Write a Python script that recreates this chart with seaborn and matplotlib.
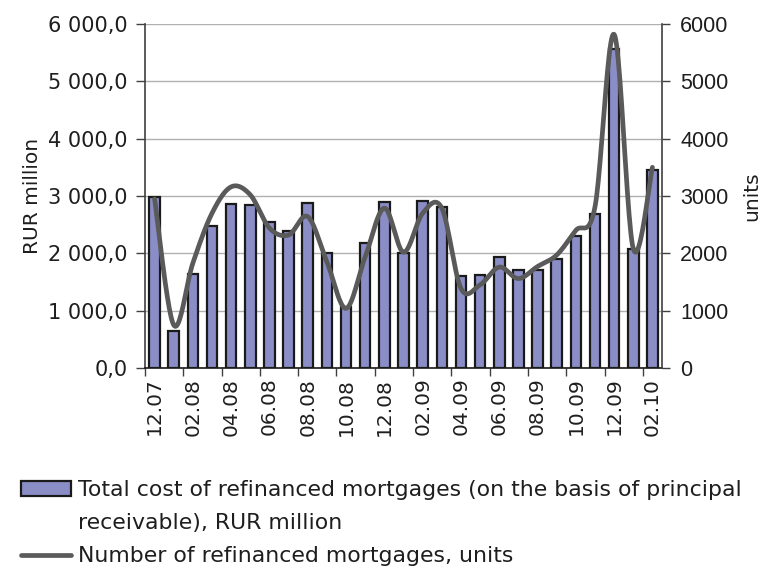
import numpy as np
import pandas as pd
import matplotlib
matplotlib.use('Agg')
import matplotlib.pyplot as plt
from matplotlib.ticker import FixedLocator, FuncFormatter
from matplotlib.patches import Patch
from matplotlib.lines import Line2D
import seaborn as sns

# --- data ---
months = ['12.07', '01.08', '02.08', '03.08', '04.08', '05.08', '06.08', '07.08',
          '08.08', '09.08', '10.08', '11.08', '12.08', '01.09', '02.09', '03.09',
          '04.09', '05.09', '06.09', '07.09', '08.09', '09.09', '10.09', '11.09',
          '12.09', '01.10', '02.10']
cost_rur_mln = [2980, 650, 1640, 2480, 2860, 2840, 2540, 2390, 2870, 2000, 1060, 2185,
                2890, 2000, 2920, 2800, 1610, 1630, 1940, 1710, 1710, 1900, 2300, 2690,
                5570, 2070, 3460]
units = [2950, 750, 1830, 2700, 3160, 3020, 2440, 2320, 2640, 1850, 1040, 1940,
         2790, 2020, 2700, 2790, 1390, 1450, 1760, 1560, 1770, 1970, 2400, 2810,
         5820, 2080, 3500]

BAR = '#8B8EC6'
LINE = '#5a5a5a'
TXT = '#1e1e1e'

sns.set_theme(style='white')
plt.rcParams['font.family'] = ['DejaVu Sans']


def smooth_curve(y, n=24):
    # Excel-style smoothed line: cubic Bezier through every data point
    p = np.column_stack([np.arange(len(y)), y]).astype(float)
    pad = np.vstack([p[0], p, p[-1]])
    t = np.linspace(0, 1, n)[:, None]
    parts = []
    for i in range(len(p) - 1):
        p0, p1, p2, p3 = pad[i], pad[i + 1], pad[i + 2], pad[i + 3]
        c1 = p1 + (p2 - p0) / 6
        c2 = p2 - (p3 - p1) / 6
        seg = (1 - t) ** 3 * p1 + 3 * (1 - t) ** 2 * t * c1 + 3 * (1 - t) * t ** 2 * c2 + t ** 3 * p2
        parts.append(seg if i == 0 else seg[1:])
    return np.vstack(parts)


fig = plt.figure(figsize=(7.63, 5.69), dpi=100)
ax = fig.add_axes([145 / 763, 1 - 368 / 569, (662 - 145) / 763, (368 - 24) / 569])

df = pd.DataFrame({'month': months, 'cost': cost_rur_mln})
sns.barplot(data=df, x='month', y='cost', color=BAR, saturation=1, width=0.55,
            edgecolor='#1a1a1a', linewidth=1.6, ax=ax, zorder=2)

ax.set_xlim(-0.5, len(months) - 0.5)
ax.set_ylim(0, 6000)
ax.set_axisbelow(True)
ax.yaxis.grid(True, color='#b0b0b0', linewidth=1)
ax.xaxis.grid(False)

# left axis
ax.yaxis.set_major_locator(FixedLocator(range(0, 6001, 1000)))
ax.yaxis.set_major_formatter(FuncFormatter(
    lambda v, _: f'{v:,.1f}'.replace(',', ' ').replace('.', ',')))
ax.tick_params(axis='y', direction='out', length=6.5, width=1, color='#404040',
               pad=6, labelsize=15, labelcolor=TXT, left=True)
ax.set_ylabel('RUR million', fontsize=14.5, color=TXT, labelpad=4)

# x axis: labels every other month, tick marks between categories
ax.set_xlabel('')
ax.xaxis.set_major_locator(FixedLocator(range(0, len(months), 2)))
ax.set_xticklabels(months[::2], rotation=90)
ax.xaxis.set_minor_locator(FixedLocator(np.arange(-0.5, len(months) - 1, 2)))
ax.tick_params(axis='x', which='major', length=0, pad=7, labelsize=14.5, labelcolor=TXT)
ax.tick_params(axis='x', which='minor', direction='out', length=6, width=1,
               color='#404040', bottom=True)

for side in ['top', 'right']:
    ax.spines[side].set_visible(False)
ax.spines['left'].set_color('#404040')
ax.spines['bottom'].set_color('#1a1a1a')
ax.spines['left'].set_linewidth(1.2)
ax.spines['bottom'].set_linewidth(1.2)

# right axis: number of mortgages
ax2 = ax.twinx()
curve = smooth_curve(units)
sns.lineplot(x=curve[:, 0], y=curve[:, 1], sort=False, estimator=None,
             color=LINE, linewidth=3.4, ax=ax2)
ax2.set_ylim(0, 6000)
ax2.set_xlim(-0.5, len(months) - 0.5)
ax2.yaxis.set_major_locator(FixedLocator(range(0, 6001, 1000)))
ax2.yaxis.set_major_formatter(FuncFormatter(lambda v, _: f'{int(v)}'))
for lbl in ax2.get_yticklabels():
    lbl.set_family('Liberation Sans')
ax2.tick_params(axis='y', direction='out', length=6, width=1, color='#404040',
                pad=7, labelsize=15.5, labelcolor=TXT, right=True)
ax2.set_ylabel('units', fontsize=14.5, color=TXT, labelpad=10)
for side in ['top', 'left', 'bottom']:
    ax2.spines[side].set_visible(False)
ax2.spines['right'].set_color('#404040')
ax2.spines['right'].set_linewidth(1.2)
ax2.grid(False)

# legend below the plot
handles = [Patch(facecolor=BAR, edgecolor='#1a1a1a', linewidth=1.6),
           Patch(facecolor='none', edgecolor='none'),
           Line2D([], [], color=LINE, linewidth=3.4)]
labels = ['Total cost of refinanced mortgages (on the basis of principal',
          'receivable), RUR million',
          'Number of refinanced mortgages, units']
fig.legend(handles, labels, loc='upper left', bbox_to_anchor=(21 / 763, 1 - 480 / 569),
           frameon=False, fontsize=15.8, handlelength=2.3, handleheight=0.65,
           handletextpad=0.3, labelspacing=0.6, borderpad=0, borderaxespad=0,
           labelcolor=TXT)

fig.savefig('out.png', dpi=100)
